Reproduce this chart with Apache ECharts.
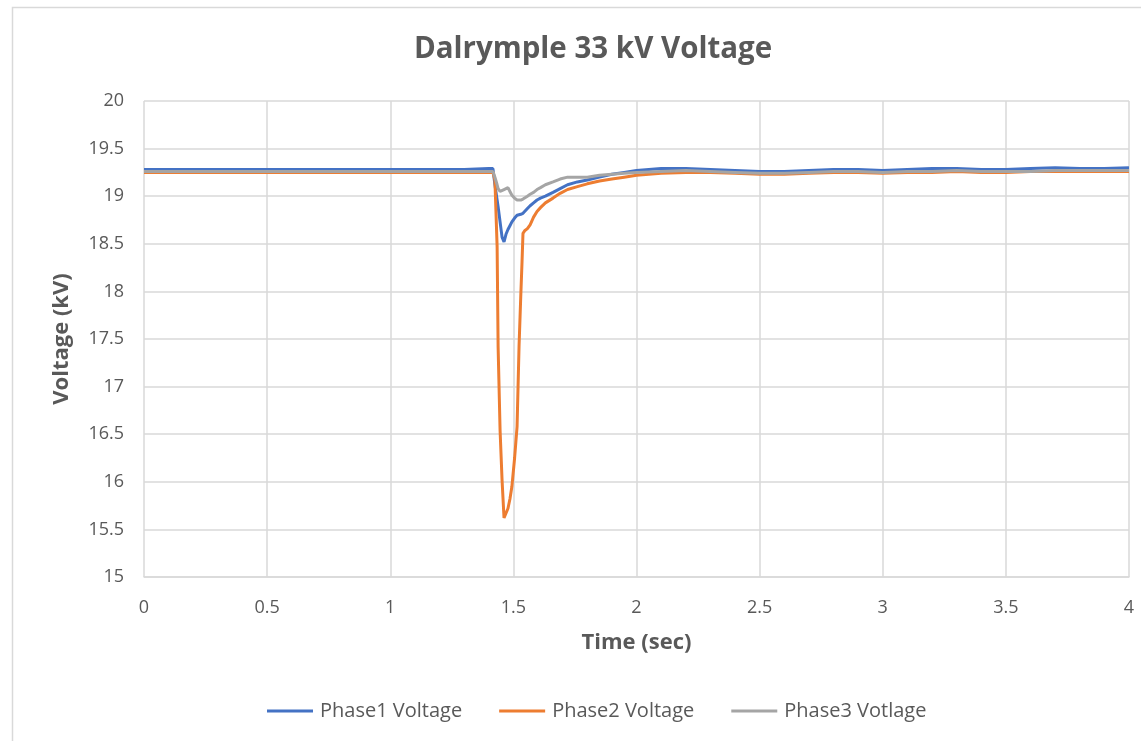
<!DOCTYPE html>
<html>
<head>
<meta charset="utf-8">
<script src="https://cdn.jsdelivr.net/npm/echarts@6/dist/echarts.min.js"></script>
<style>
html, body { margin: 0; padding: 0; background: #fff; }
#chart { width: 1141px; height: 741px; }
</style>
</head>
<body>
<div id="chart"></div>
<script>
// time (sec), shared by the three phases
var timeSec = [
  0, 0.1, 0.2, 0.3, 0.4, 0.5, 0.6, 0.7, 0.8, 0.9, 1.0, 1.1, 1.2, 1.3, 1.4,
  1.417, 1.425, 1.434, 1.438, 1.446, 1.454, 1.462, 1.47, 1.478, 1.486, 1.494,
  1.505, 1.515, 1.523, 1.53, 1.535, 1.539, 1.547, 1.557, 1.568, 1.582, 1.596,
  1.61, 1.63, 1.661, 1.69, 1.72, 1.76, 1.8, 1.85, 1.9, 1.95, 2.0,
  2.1, 2.2, 2.3, 2.4, 2.5, 2.6, 2.7, 2.8, 2.9, 3.0, 3.1, 3.2, 3.3, 3.4, 3.5,
  3.6, 3.7, 3.8, 3.9, 4.0
];

// voltages (kV)
var phase1 = [
  19.28, 19.28, 19.28, 19.28, 19.28, 19.28, 19.28, 19.28, 19.28, 19.28, 19.28, 19.28, 19.28, 19.28, 19.29,
  19.29, 19.12, 18.96, 18.89, 18.73, 18.57, 18.52, 18.60, 18.65, 18.69, 18.73,
  18.77, 18.80, 18.80, 18.81, 18.81, 18.82, 18.84, 18.87, 18.90, 18.93, 18.96,
  18.98, 19.00, 19.04, 19.08, 19.12, 19.15, 19.17, 19.20, 19.23, 19.25, 19.27,
  19.29, 19.29, 19.28, 19.27, 19.26, 19.26, 19.27, 19.28, 19.28, 19.27, 19.28, 19.29, 19.29, 19.28, 19.28,
  19.29, 19.30, 19.29, 19.29, 19.30
];
var phase2 = [
  19.25, 19.25, 19.25, 19.25, 19.25, 19.25, 19.25, 19.25, 19.25, 19.25, 19.25, 19.25, 19.25, 19.25, 19.25,
  19.25, 19.17, 18.47, 17.42, 16.54, 16.02, 15.62, 15.63, 15.72, 15.82, 15.95,
  16.25, 16.58, 17.42, 17.95, 18.30, 18.61, 18.64, 18.66, 18.70, 18.78, 18.84,
  18.88, 18.93, 18.98, 19.03, 19.07, 19.10, 19.13, 19.16, 19.18, 19.20, 19.22,
  19.24, 19.25, 19.25, 19.24, 19.23, 19.23, 19.24, 19.25, 19.25, 19.24, 19.25, 19.25, 19.26, 19.25, 19.25,
  19.26, 19.26, 19.26, 19.26, 19.26
];
var phase3 = [
  19.26, 19.26, 19.26, 19.26, 19.26, 19.26, 19.26, 19.26, 19.26, 19.26, 19.26, 19.26, 19.26, 19.26, 19.26,
  19.26, 19.20, 19.12, 19.08, 19.05, 19.04, 19.07, 19.09, 19.09, 19.05, 19.01,
  18.98, 18.96, 18.96, 18.96, 18.97, 18.97, 18.98, 19.00, 19.02, 19.04, 19.07,
  19.09, 19.12, 19.15, 19.18, 19.20, 19.20, 19.20, 19.22, 19.23, 19.24, 19.25,
  19.26, 19.27, 19.26, 19.25, 19.24, 19.24, 19.25, 19.26, 19.26, 19.25, 19.26, 19.26, 19.27, 19.26, 19.26,
  19.26, 19.27, 19.27, 19.27, 19.27
];

var seriesNames = ['Phase1 Voltage', 'Phase2 Voltage', 'Phase3 Votlage'];
var seriesColors = ['#4472c4', '#ed7d31', '#a5a5a5'];

function pairs(values) {
  return timeSec.map(function (t, i) { return [t, values[i]]; });
}

var textColor = '#595959';
var fontFam = '"Open Sans", "Noto Sans", sans-serif';

var option = {
  animation: false,
  backgroundColor: '#fff',
  title: {
    text: 'Dalrymple 33 kV Voltage',
    left: 588,
    top: 30,
    textAlign: 'center',
    textStyle: { color: textColor, fontSize: 29.5, fontWeight: 'bold', fontFamily: fontFam }
  },
  graphic: [{
    type: 'rect',
    shape: { x: 12.5, y: 7.5, width: 1160, height: 760 },
    style: { fill: 'none', stroke: '#d9d9d9', lineWidth: 1.5 },
    silent: true
  }],
  legend: {
    bottom: 15,
    left: 262,
    itemWidth: 46,
    itemHeight: 3,
    itemGap: 37,
    icon: 'rect',
    textStyle: { color: textColor, fontSize: 20, fontFamily: fontFam, padding: [0, 0, 0, 2] },
    data: seriesNames
  },
  grid: { left: 144, right: 12, top: 101, bottom: 164 },
  xAxis: {
    type: 'value',
    min: 0,
    max: 4,
    interval: 0.5,
    name: 'Time (sec)',
    nameLocation: 'middle',
    nameGap: 55,
    nameTextStyle: { color: textColor, fontSize: 22, fontWeight: 'bold', fontFamily: fontFam },
    axisLine: { show: true, lineStyle: { color: '#d9d9d9', width: 1.5 } },
    axisTick: { show: false },
    axisLabel: { color: textColor, fontSize: 18, margin: 22, fontFamily: fontFam },
    splitLine: { show: true, lineStyle: { color: '#d9d9d9', width: 1.5 } }
  },
  yAxis: {
    type: 'value',
    min: 15,
    max: 20,
    interval: 0.5,
    name: 'Voltage (kV)',
    nameLocation: 'middle',
    nameGap: 71,
    nameTextStyle: { color: textColor, fontSize: 22, fontWeight: 'bold', fontFamily: fontFam },
    axisLine: { show: false },
    axisTick: { show: false },
    axisLabel: { color: textColor, fontSize: 18, margin: 20, fontFamily: fontFam },
    splitLine: { show: true, lineStyle: { color: '#d9d9d9', width: 1.5 } }
  },
  series: [phase1, phase2, phase3].map(function (vals, i) {
    return {
      name: seriesNames[i],
      type: 'line',
      data: pairs(vals),
      showSymbol: false,
      symbol: 'none',
      color: seriesColors[i],
      lineStyle: { width: 3, color: seriesColors[i] }
    };
  })
};

var myChart = echarts.init(document.getElementById('chart'));
myChart.setOption(option);
</script>
</body>
</html>
